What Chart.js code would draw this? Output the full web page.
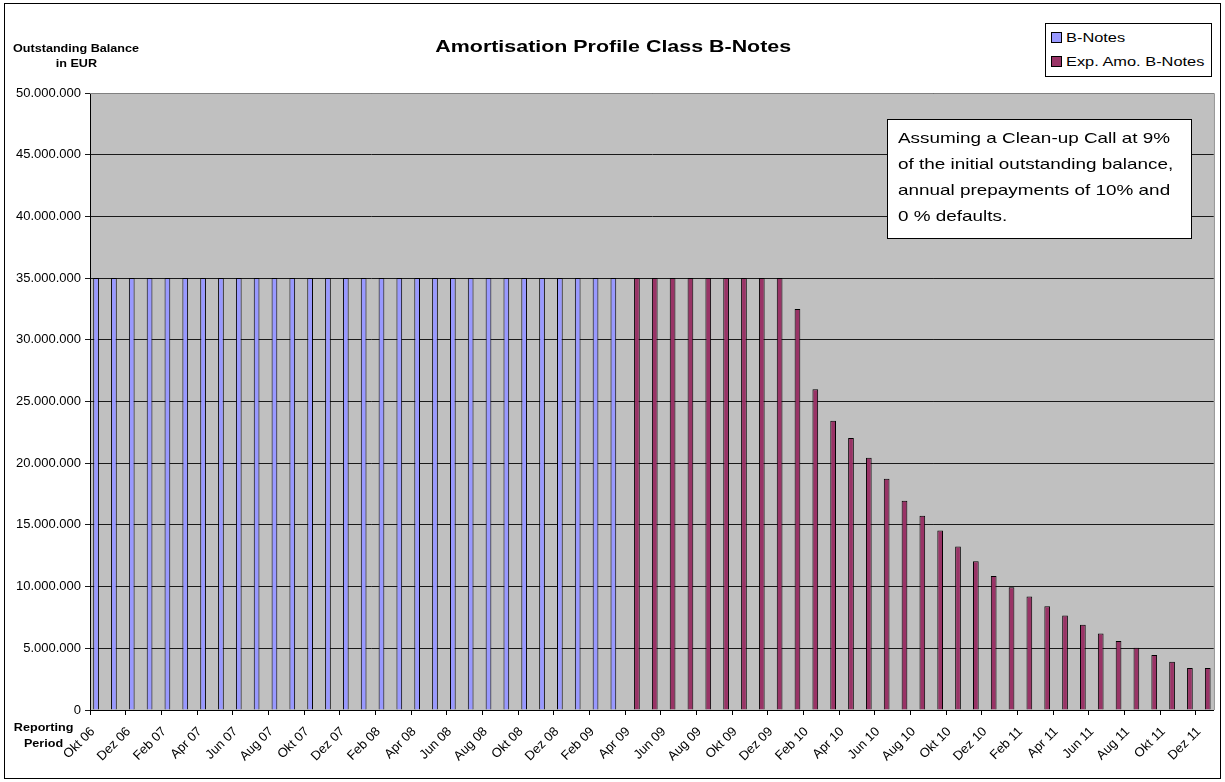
<!DOCTYPE html>
<html>
<head>
<meta charset="utf-8">
<script src="https://cdn.jsdelivr.net/npm/chart.js@4.4.0/dist/chart.umd.min.js"></script>
<style>
  html, body { margin: 0; padding: 0; background: #fff; }
  #wrap { position: relative; width: 1225px; height: 782px; font-family: 'Liberation Sans', Arial, sans-serif; color: #000; }
  #frame { position: absolute; left: 4px; top: 3px; width: 1217px; height: 776px; border: 1px solid #000; box-sizing: border-box; pointer-events: none; }
  canvas { position: absolute; left: 0; top: 0; }
  .stretch { display: inline-block; transform: scaleX(1.26); white-space: nowrap; }
  #title { position: absolute; left: 363px; top: 37px; width: 500px; text-align: center; font-weight: bold; font-size: 17px; line-height: 20px; }
  #title .stretch { transform-origin: center; }
  #ytitle { position: absolute; left: 26px; top: 41px; width: 100px; text-align: center; font-weight: bold; font-size: 10px; line-height: 15px; }
  #ytitle .stretch, #xtitle .stretch { transform-origin: center; }
  #xtitle { position: absolute; left: -6px; top: 720px; width: 100px; text-align: center; font-weight: bold; font-size: 10px; line-height: 16px; }
  #legend { position: absolute; left: 1045px; top: 23px; width: 167px; height: 54px; border: 1px solid #000; box-sizing: border-box; background: #fff; font-size: 13px; }
  .item { position: absolute; left: 5px; height: 16px; line-height: 16px; }
  .sw { position: absolute; left: 0; top: 2px; width: 11px; height: 11px; border: 1px solid #000; box-sizing: border-box; }
  .lt { position: absolute; left: 15px; top: 0; transform-origin: left center; }
  #note { position: absolute; left: 887px; top: 119px; width: 305px; height: 120px; border: 1px solid #000; box-sizing: border-box; background: #fff; font-size: 15px; line-height: 26px; padding: 5px 0 0 10px; }
  #note .stretch { transform-origin: left center; display: block; transform: scaleX(1.26); }
</style>
</head>
<body>
<div id="wrap">
  <canvas id="chart" width="1225" height="782"></canvas>
  <div id="title"><span class="stretch">Amortisation Profile Class B-Notes</span></div>
  <div id="ytitle"><span class="stretch">Outstanding Balance</span><br><span class="stretch">in EUR</span></div>
  <div id="xtitle"><span class="stretch">Reporting</span><br><span class="stretch">Period</span></div>
  <div id="legend">
    <div class="item" style="top:6px"><span class="sw" style="background:#9999FF"></span><span class="lt stretch">B-Notes</span></div>
    <div class="item" style="top:30px"><span class="sw" style="background:#993366"></span><span class="lt stretch">Exp. Amo. B-Notes</span></div>
  </div>
  <div id="note">
    <span class="stretch">Assuming a Clean-up Call at 9%</span>
    <span class="stretch">of the initial outstanding balance,</span>
    <span class="stretch">annual prepayments of 10% and</span>
    <span class="stretch">0 % defaults.</span>
  </div>
  <div id="frame"></div>
</div>
<script>
const periods = [
  'Okt 06', 'Nov 06', 'Dez 06',
  'Jan 07', 'Feb 07', 'Mrz 07', 'Apr 07', 'Mai 07', 'Jun 07', 'Jul 07', 'Aug 07', 'Sep 07', 'Okt 07', 'Nov 07', 'Dez 07',
  'Jan 08', 'Feb 08', 'Mrz 08', 'Apr 08', 'Mai 08', 'Jun 08', 'Jul 08', 'Aug 08', 'Sep 08', 'Okt 08', 'Nov 08', 'Dez 08',
  'Jan 09', 'Feb 09', 'Mrz 09', 'Apr 09', 'Mai 09', 'Jun 09', 'Jul 09', 'Aug 09', 'Sep 09', 'Okt 09', 'Nov 09', 'Dez 09',
  'Jan 10', 'Feb 10', 'Mrz 10', 'Apr 10', 'Mai 10', 'Jun 10', 'Jul 10', 'Aug 10', 'Sep 10', 'Okt 10', 'Nov 10', 'Dez 10',
  'Jan 11', 'Feb 11', 'Mrz 11', 'Apr 11', 'Mai 11', 'Jun 11', 'Jul 11', 'Aug 11', 'Sep 11', 'Okt 11', 'Nov 11', 'Dez 11'
];

// actual balance, Okt 06 - Mrz 09
const bNotes = [
  35000000, 35000000, 35000000, 35000000, 35000000, 35000000, 35000000, 35000000, 35000000, 35000000,
  35000000, 35000000, 35000000, 35000000, 35000000, 35000000, 35000000, 35000000, 35000000, 35000000,
  35000000, 35000000, 35000000, 35000000, 35000000, 35000000, 35000000, 35000000, 35000000, 35000000
];

// expected amortisation, Apr 09 - Dez 11
const expAmo = [
  35000000, 35000000, 35000000, 35000000, 35000000, 35000000, 35000000, 35000000, 35000000,
  32500000, 26000000, 23450000, 22050000, 20450000, 18750000, 16950000, 15750000, 14550000,
  13250000, 12050000, 10850000, 9950000, 9200000, 8400000, 7650000, 6900000, 6200000,
  5600000, 5050000, 4450000, 3900000, 3400000, 3400000
];

const yTicks = [0, 5000000, 10000000, 15000000, 20000000, 25000000, 30000000, 35000000, 40000000, 45000000, 50000000];

const expStart = periods.indexOf('Apr 09');

const blueData = periods.map((p, i) => (i < bNotes.length ? bNotes[i] : null));
const redData = periods.map((p, i) => (i >= expStart ? expAmo[i - expStart] : null));

function dotted(val) {
  return String(Math.round(val)).replace(/\B(?=(\d{3})+(?!\d))/g, '.');
}

const plotBox = {
  id: 'plotBox',
  beforeDraw(chart) {
    const { ctx, chartArea: a } = chart;
    ctx.save();
    ctx.fillStyle = '#C0C0C0';
    ctx.fillRect(a.left, a.top, a.right - a.left, a.bottom - a.top);
    ctx.restore();
  },
  afterDraw(chart) {
    const { ctx, chartArea: a } = chart;
    ctx.save();
    ctx.strokeStyle = '#808080';
    ctx.lineWidth = 1;
    ctx.beginPath();
    ctx.moveTo(a.left, a.top + 0.5);
    ctx.lineTo(a.right + 0.5, a.top + 0.5);
    ctx.lineTo(a.right + 0.5, a.bottom);
    ctx.stroke();
    ctx.restore();
  }
};

Chart.defaults.font.family = "'Liberation Sans', Arial, sans-serif";
Chart.defaults.color = '#000';

new Chart(document.getElementById('chart'), {
  type: 'bar',
  data: {
    labels: periods,
    datasets: [
      {
        label: 'B-Notes',
        data: blueData,
        backgroundColor: '#9999FF',
        borderColor: '#000',
        borderWidth: 1,
        inflateAmount: 0,
        categoryPercentage: 0.64,
        barPercentage: 1.0
      },
      {
        label: 'Exp. Amo. B-Notes',
        data: redData,
        backgroundColor: '#993366',
        borderColor: '#000',
        borderWidth: 1,
        inflateAmount: 0,
        categoryPercentage: 0.64,
        barPercentage: 1.0
      }
    ]
  },
  options: {
    responsive: false,
    animation: false,
    devicePixelRatio: 1,
    layout: { padding: { top: 93, right: 10, left: 0, bottom: 0 } },
    plugins: {
      legend: { display: false },
      title: { display: false },
      tooltip: { enabled: false }
    },
    scales: {
      x: {
        afterFit: (axis) => { axis.height = 72; },
        grid: {
          offset: true,
          drawOnChartArea: false,
          drawTicks: true,
          tickLength: 5,
          color: (c) => (c.index % 2 === 0 ? '#000' : 'rgba(0,0,0,0)')
        },
        border: { color: '#000', width: 1 },
        ticks: {
          autoSkip: false,
          minRotation: 45,
          maxRotation: 45,
          labelOffset: -6,
          padding: 9,
          font: { size: 13 },
          callback: (v, i) => (i % 2 === 0 ? periods[i] : '')
        }
      },
      y: {
        min: 0,
        max: 50000000,
        afterFit: (axis) => { axis.width = 90; },
        afterBuildTicks: (axis) => { axis.ticks = yTicks.map((v) => ({ value: v })); },
        grid: { color: '#1a1a1a', tickLength: 5, lineWidth: 1 },
        border: { color: '#000', width: 1 },
        ticks: {
          padding: 4,
          font: { size: 13 },
          callback: (v) => dotted(v)
        }
      }
    }
  },
  plugins: [plotBox]
});
</script>
</body>
</html>
